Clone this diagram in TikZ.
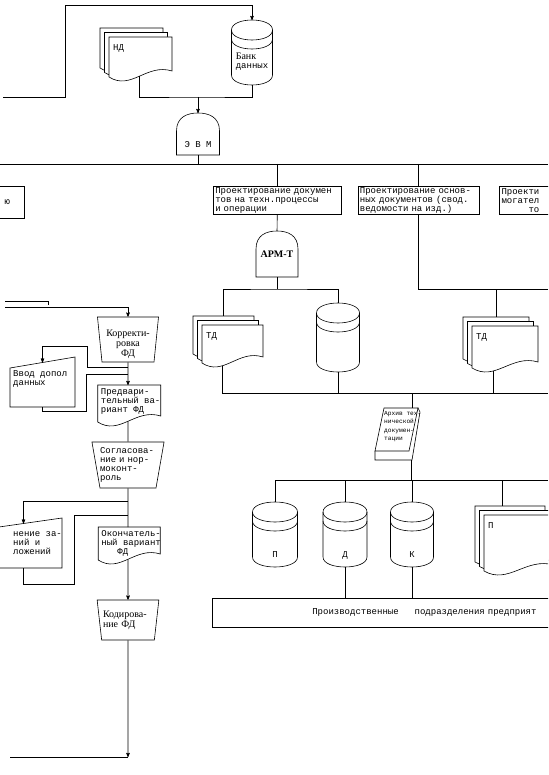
\documentclass[tikz,border=0pt]{standalone}
\usepackage{fontspec}
\setmainfont{Liberation Serif}
\setmonofont{Liberation Mono}
\usetikzlibrary{arrows, positioning, shapes, shapes.geometric, calc}

\tikzset{
	every node/.style={
		align=left,
	},
}
\tikzstyle{tw}=[font=\ttfamily\fontsize{9}{9}\selectfont, inner sep=0pt]
\tikzstyle{rm}=[font=\rmfamily\fontsize{10}{10}\selectfont, inner sep=0pt]
\tikzstyle{small-tw}=[font=\ttfamily\fontsize{6.2}{8.5}\selectfont, inner sep=0pt]
\tikzstyle{link}=[line width=0.6pt, black]
\tikzstyle{flow}=[->, >=stealth', line width=0.6pt, black]
\tikzstyle{textbox}=[rectangle, draw, line width=0.6pt, tw, inner xsep=2pt, inner ysep=1pt, anchor=north west, minimum height=28pt]
\tikzstyle{manual-op}=[trapezium, draw, line width=0.6pt, shape border rotate=180, trapezium stretches=true, trapezium angle=77]

\newcommand{\docpath}[2]{(0,0) -- (#1,0) -- (#1,#2-6) .. controls (0.6*#1,#2-14) and (0.35*#1,#2+14) .. (0,#2) -- cycle}

\tikzset{
	pics/docpage/.style n args={3}{code={
		\draw[link, fill=white] \docpath{#1}{#2};
		\node[tw, anchor=north west] (-t) at (3,3) {#3};
		\coordinate (-n) at (0.481*#1,0);
		\coordinate (-s) at (0.481*#1,#2-0.75);
	}},
	pics/docstack/.style n args={3}{code={
		\foreach \k in {2,1}{
			\draw[link, fill=white, shift={(-4.5*\k,-4.5*\k)}] \docpath{#1}{#2};
		}
		\draw[link, fill=white] \docpath{#1}{#2};
		\node[tw, anchor=north west] (-t) at (4,7) {#3};
		\coordinate (-n) at (0.5*#1-9,-9);
		\coordinate (-s) at (0.326*#1,#2+2.89);
		\coordinate (-m) at (0.481*#1,#2-0.75);
	}},
	pics/dbase/.style n args={4}{code={
		\draw[link, fill=white] (-#1/2,10) .. controls (-#1/2,-3.33) and (#1/2,-3.33) .. (#1/2,10)
			-- (#1/2,#2-10) .. controls (#1/2,#2+3.33) and (-#1/2,#2+3.33) .. (-#1/2,#2-10) -- cycle;
		\draw[link] (-#1/2,10) .. controls (-#1/2,23.33) and (#1/2,23.33) .. (#1/2,10);
		\draw[link] (-#1/2,19) .. controls (-#1/2,32.33) and (#1/2,32.33) .. (#1/2,19);
		\node[tw] (-t) at (0,#3) {#4};
		\coordinate (-n) at (0,0);
		\coordinate (-s) at (0,#2);
	}},
	pics/bullet/.style n args={4}{code={
		\draw[link, fill=white] (-#1/2,#2) -- (-#1/2,18) .. controls (-#1/2,4) and (-#1/4,0) .. (0,0)
			.. controls (#1/4,0) and (#1/2,4) .. (#1/2,18) -- (#1/2,#2) -- cycle;
		\node[tw] (-t) at (0,#3) {#4};
		\coordinate (-n) at (0,0);
		\coordinate (-s) at (0,#2);
	}},
	pics/manin/.style n args={5}{code={
		\draw[link, fill=white] (0,0) -- (#1,-#2) -- (#1,#3) -- (0,#3) -- cycle;
		\node[tw, anchor=north west] (-t) at (#4,2) {#5};
		\coordinate (-n) at (0.5*#1,-0.5*#2);
		\coordinate (-s) at (0.5*#1,#3);
	}},
	pics/archive/.style={code={
		\draw[link, fill=white] (-9,43) -- (-9,52) -- (28,52) -- (36,4) -- (34,0) -- cycle;
		\draw[link, fill=white] (0,0) -- (34,0) -- (25,43) -- (-9,43) -- cycle;
		\node[small-tw, anchor=north west] (-t) at (0,3) {#1};
		\coordinate (-n) at (28,0);
		\coordinate (-s) at (27,52);
	}},
}

\begin{document}
\begin{tikzpicture}[x=1pt, y=-1pt]
    \useasboundingbox (0,0) rectangle (548,775);
    \clip (0,0) rectangle (548,775);

    % computer with its stores
    \pic (nd) at (109,37) {docstack={63}{40}{НД}};
    \pic (bank) at (252,20) {dbase={41}{65}{42}{\rmfamily\fontsize{10}{10}\selectfont Банк\\данных}};
    \pic (evm) at (198,113) {bullet={43}{42}{32}{Э В М}};

    \coordinate (in1) at (3,97);
    \coordinate (topL) at (65,5);
    \coordinate (bus1) at (198,97);
    \draw[flow] (in1) -| (topL) -| (bank-n);
    \draw[link] (nd-m) |- (bus1) -| (bank-s);
    \draw[flow] (bus1) -- (evm-n);

    \coordinate (busL) at (0,164);
    \coordinate (busR) at (548,164);
    \draw[link] (busL) -- (busR);
    \draw[link] (evm-s) -- (evm-s |- busL);

    % design tasks
    \node[textbox, anchor=north east, minimum width=40pt, text width=36pt, minimum height=32pt] (lbox) at (25,186) {\hspace*{18pt}ю};
    \node[textbox, minimum width=128pt, text width=124pt] (box1) at (213,186) {Проектирование докумен\\тов на техн.процессы\\и операции};
    \node[textbox, minimum width=121pt, text width=117pt, right=16pt of box1] (box2) {Проектирование основ-\\ных документов (свод.\\ведомости на изд.)};
    \node[textbox, minimum width=70pt, text width=66pt, right=20pt of box2] (box3) {Проекти\\могател\\\hspace*{27pt}то};
    \draw[link] (box1.north |- busL) -- (box1.north);
    \draw[link] (box2.north |- busL) -- (box2.north);

    \pic (arm) at (277,231) {bullet={42}{46}{23}{\rmfamily\bfseries\fontsize{10}{10}\selectfont АРМ-Т}};
    \draw[link] (box1.south) -- (arm-n);

    \coordinate (b2) at (277,289);
    \coordinate (b2R) at (548,289);
    \pic (td1) at (202,325) {docstack={61}{38}{ТД}};
    \pic (db1) at (338,303) {dbase={43}{69}{40}{}};
    \pic (td2) at (472,326) {docstack={66}{42}{ТД}};
    \draw[link] (arm-s) -- (b2);
    \draw[link] (td1-n) |- (b2) -| (db1-n);
    \draw[link] (box2.south) |- (b2R);
    \draw[link] (td2-n) -- (td2-n |- b2R);

    \coordinate (b3) at (412,393);
    \coordinate (b3R) at (548,393);
    \draw[link] (td1-s) |- (b3R);
    \draw[link] (db1-s) -- (db1-s |- b3R);
    \draw[link] (td2-s) -- (td2-s |- b3R);

    % archive and its copies
    \pic (arch) at (384,408) {archive={Архив тех-\\нической\\докумен-\\тации}};
    \draw[link] (b3) -- (arch-n);

    \coordinate (b4R) at (548,480);
    \pic (dbp) at (275,502) {dbase={45}{65}{53}{П}};
    \pic (dbd) at (345,502) {dbase={44}{65}{53}{Д}};
    \pic (dbk) at (412,502) {dbase={43}{65}{53}{К}};
    \pic (docp) at (484,515) {docstack={70}{56}{П}};
    \draw[link] (dbp-n) |- (b4R);
    \draw[link] (arch-s) -- (arch-s |- b4R);
    \draw[link] (dbd-n) -- (dbd-n |- b4R);
    \draw[link] (dbk-n) -- (dbk-n |- b4R);
    \draw[link] ([xshift=-8pt]docp-n) -- ([xshift=-8pt]docp-n |- b4R);

    \node[rectangle, draw, link, tw, anchor=north west, minimum width=348pt, minimum height=29pt, text width=340pt, inner xsep=4pt] (bar) at (212,598) {\hspace*{96pt}Производственные\hspace*{16pt}подразделения предприят};
    \draw[link] (dbd-s) -- (dbd-s |- bar.north);
    \draw[link] (dbk-s) -- (dbk-s |- bar.north);

    % left column: working through the document
    \coordinate (in3) at (5,301);
    \coordinate (in3e) at (48,305);
    \coordinate (in2) at (5,307);
    \draw[link] (in3) -| (in3e);
    \node[manual-op, minimum width=60pt, minimum height=45pt, rm, text width=52pt, align=center, text depth=13pt] (korr) at (128,339.5) {Корректи-\\ровка\\ФД};
    \draw[flow] (in2) -| (korr.north);

    \pic (vvod) at (10,368) {manin={65}{11}{39}{3}{Ввод допол\\данных}};
    \pic (predv) at (97.7,385) {docpage={63}{37}{Предвари-\\тельный ва-\\риант ФД}};
    \coordinate (j1) at (128,367);
    \coordinate (j2) at (128,374);
    \coordinate (lp1) at (87,346);
    \coordinate (lp2) at (86,411);
    \draw[flow] (korr.south) -- (predv-n);
    \draw[flow] (j1) -| (lp1) -| (vvod-n);
    \draw[link] (vvod-s) |- (lp2) |- (j2);

    \node[manual-op, minimum width=66pt, minimum height=46pt, tw, text width=56pt] (sogl) at (128,465) {Согласова-\\ние и нор-\\моконт-\\роль};
    \draw[link] (predv-s) -- (sogl.north);

    \pic (left) at (-15,529) {manin={77}{11}{39}{28}{нение за-\\ний и\\ложений}};
    \pic (okon) at (98.2,527) {docpage={62}{33}{Окончатель-\\ный вариант\\\hspace*{16pt}ФД}};
    \coordinate (j3) at (128,501);
    \coordinate (j4) at (128,515);
    \coordinate (lp3) at (74,584);
    \draw[link] (sogl.south) -- (okon-n);
    \draw[flow] (j3) -| (left-n);
    \draw[link] (left-s) |- (lp3) |- (j4);

    \node[manual-op, minimum width=62pt, minimum height=40pt, rm, text width=50pt, text depth=12pt] (kod) at (128,620) {Кодирова-\\ние ФД};
    \draw[flow] (okon-s) -- (kod.north);
    \coordinate (cb) at (128,757);
    \coordinate (lb) at (10,757);
    \draw[flow] (kod.south) -- (cb);
    \draw[link] (cb) -- (lb);
\end{tikzpicture}
\end{document}
